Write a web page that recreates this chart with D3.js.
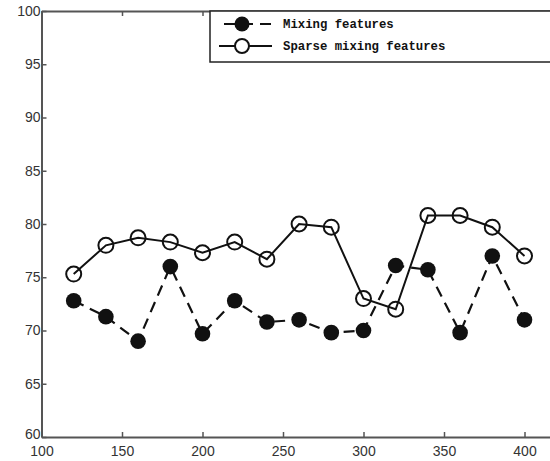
<!DOCTYPE html>
<meta charset="utf-8">
<script src="https://cdnjs.cloudflare.com/ajax/libs/d3/7.8.5/d3.min.js"></script>
<style>
  body { margin: 0; background: #fff; }
  .tick text { font-family: "Liberation Sans", Arial, sans-serif; font-size: 14px; fill: #333; }
</style>
<body>
<script>

// data
var xValues = [120, 140, 160, 180, 200, 220, 240, 260, 280, 300, 320, 340, 360, 380, 400];
var mixing  = [72.8, 71.3, 69.0, 76.0, 69.7, 72.8, 70.8, 71.0, 69.8, 70.0, 76.1, 75.7, 69.8, 77.0, 71.0];
var sparse  = [75.3, 78.0, 78.7, 78.3, 77.3, 78.3, 76.7, 80.0, 79.7, 73.0, 72.0, 80.8, 80.8, 79.7, 77.0];
var xTicks = [100, 150, 200, 250, 300, 350, 400];
var yTicks = [60, 65, 70, 75, 80, 85, 90, 95, 100];
var seriesNames = ["Mixing features", "Sparse mixing features"];

var width = 550, height = 461;
var plotLeft = 41.5, plotTop = 11, plotBottom = 437;

var svg = d3.select("body").append("svg")
    .attr("width", width)
    .attr("height", height);

var x = d3.scaleLinear().domain([100, 420]).range([plotLeft, plotLeft + 320 * 80.5 / 50]);
var y = d3.scaleLinear().domain([60, 100]).range([plotBottom, plotTop]);

// axes (ticks point inward like matlab)
var xAxis = svg.append("g")
    .attr("transform", "translate(0," + plotBottom + ")")
    .call(d3.axisBottom(x).tickValues(xTicks).tickSizeInner(-5).tickSizeOuter(0).tickPadding(6));
var xTop = svg.append("g")
    .attr("transform", "translate(0," + plotTop + ")")
    .call(d3.axisTop(x).tickValues(xTicks).tickSizeInner(-5).tickSizeOuter(0).tickFormat(""));
var yAxis = svg.append("g")
    .attr("transform", "translate(" + plotLeft + ",0)")
    .call(d3.axisLeft(y).tickValues(yTicks).tickSizeInner(-5).tickSizeOuter(0).tickPadding(3));

svg.selectAll(".domain").attr("stroke", "#555").attr("stroke-width", 2);
svg.selectAll(".tick line").attr("stroke", "#555").attr("stroke-width", 1.5);
xAxis.selectAll(".tick text").attr("dy", "0.9em");
yAxis.selectAll(".tick text").attr("dx", "2px");
// the "60" label sits a little higher so it clears the "100" below it
yAxis.selectAll(".tick text").filter(function(d) { return d === 60; }).attr("y", -3);

var line = d3.line()
    .x(function(d, i) { return x(xValues[i]); })
    .y(function(d) { return y(d); });

// sparse mixing features: solid line, open circles
svg.append("path")
    .datum(sparse)
    .attr("d", line)
    .attr("fill", "none")
    .attr("stroke", "#111")
    .attr("stroke-width", 2);

// mixing features: dashed line, filled circles
svg.append("path")
    .datum(mixing)
    .attr("d", line)
    .attr("fill", "none")
    .attr("stroke", "#111")
    .attr("stroke-width", 2.2)
    .attr("stroke-dasharray", "11,7");

svg.selectAll(".sparse")
    .data(sparse)
  .enter().append("circle")
    .attr("class", "sparse")
    .attr("cx", function(d, i) { return x(xValues[i]); })
    .attr("cy", function(d) { return y(d); })
    .attr("r", 7.5)
    .attr("fill", "none")
    .attr("stroke", "#111")
    .attr("stroke-width", 2);

svg.selectAll(".mixing")
    .data(mixing)
  .enter().append("circle")
    .attr("class", "mixing")
    .attr("cx", function(d, i) { return x(xValues[i]); })
    .attr("cy", function(d) { return y(d); })
    .attr("r", 7.8)
    .attr("fill", "#111");

// legend
var legend = svg.append("g");
legend.append("rect")
    .attr("x", 210).attr("y", plotTop)
    .attr("width", 360).attr("height", 51)
    .attr("fill", "#fff")
    .attr("stroke", "#222")
    .attr("stroke-width", 1.5);

legend.append("line")
    .attr("x1", 224).attr("x2", 272).attr("y1", 24).attr("y2", 24)
    .attr("stroke", "#111").attr("stroke-width", 2.2)
    .attr("stroke-dasharray", "11,7");
legend.append("circle")
    .attr("cx", 242).attr("cy", 24).attr("r", 7.5).attr("fill", "#111");

legend.append("line")
    .attr("x1", 219).attr("x2", 272).attr("y1", 46).attr("y2", 46)
    .attr("stroke", "#111").attr("stroke-width", 2);
legend.append("circle")
    .attr("cx", 242).attr("cy", 46).attr("r", 7).attr("fill", "#fff")
    .attr("stroke", "#111").attr("stroke-width", 2);

legend.selectAll(".label")
    .data(seriesNames)
  .enter().append("text")
    .attr("class", "label")
    .attr("x", 283)
    .attr("y", function(d, i) { return 24 + i * 22; })
    .attr("dy", "0.35em")
    .style("font-family", "'Liberation Mono', 'DejaVu Sans Mono', monospace")
    .style("font-size", "12.3px")
    .style("font-weight", "bold")
    .style("fill", "#111")
    .text(function(d) { return d; });

</script>
